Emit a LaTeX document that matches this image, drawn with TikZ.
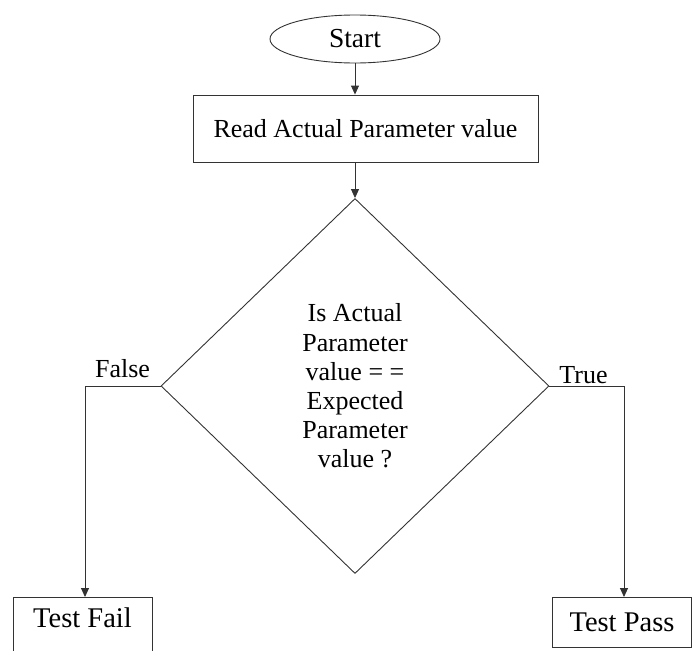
\documentclass[tikz,border=0pt]{standalone}
\usepackage{fontspec}
\setmainfont{Liberation Serif}
\usetikzlibrary{shapes.geometric,arrows.meta,calc}
\begin{document}
\begin{tikzpicture}[x=1pt,y=-1pt,
  line/.style={draw=black!80, line width=0.9pt},
  arr/.style={line, -{Triangle[length=9pt,width=8pt]}},
  mainfont/.style={font=\fontsize{26}{29.2}\selectfont},
  boxnode/.style={line, rectangle, inner sep=0pt, mainfont},
  lbl/.style={inner sep=0pt, mainfont, anchor=base},
  endbox/.style={line, rectangle, inner xsep=0pt, inner ysep=11pt,
     minimum width=139pt, text height=19pt, font=\fontsize{28.5}{31}\selectfont}
]
\useasboundingbox (0,0) rectangle (694,651);
\clip (0,0) rectangle (694,651);

\node[line, ellipse, inner sep=0pt, minimum width=170pt, minimum height=48pt,
      font=\fontsize{27.5}{30}\selectfont] (start) at (355,39) {Start};

\node[boxnode, minimum width=345pt, minimum height=67pt] (read) at (365.5,128.5)
      {Read Actual Parameter value};

\node[line, diamond, inner sep=0pt, minimum width=388pt, minimum height=375pt,
      align=center, mainfont] (dec) at (355,386)
      {Is Actual\\Parameter\\value = =\\Expected\\Parameter\\value ?};

\node[endbox, anchor=north, text depth=45pt] (fail) at (82.5,597) {Test Fail};
\node[endbox, anchor=north, text depth=0pt, inner ysep=11pt, minimum height=50pt] (pass) at (622,597) {Test Pass};

\node[lbl] (flab) at (122.5,377) {False};
\node[lbl] (tlab) at (583.5,383) {True};

\coordinate (fcorner) at (85,386);
\coordinate (tcorner) at (624,386);

\draw[arr] (start.south) -- (start.south |- read.north);
\draw[arr] (read.south -| dec.north) -- (dec.north);
\draw[arr] (dec.west) -- (fcorner) -- (fcorner |- fail.north);
\draw[arr] (dec.east) -- (tcorner) -- (tcorner |- pass.north);
\end{tikzpicture}
\end{document}
